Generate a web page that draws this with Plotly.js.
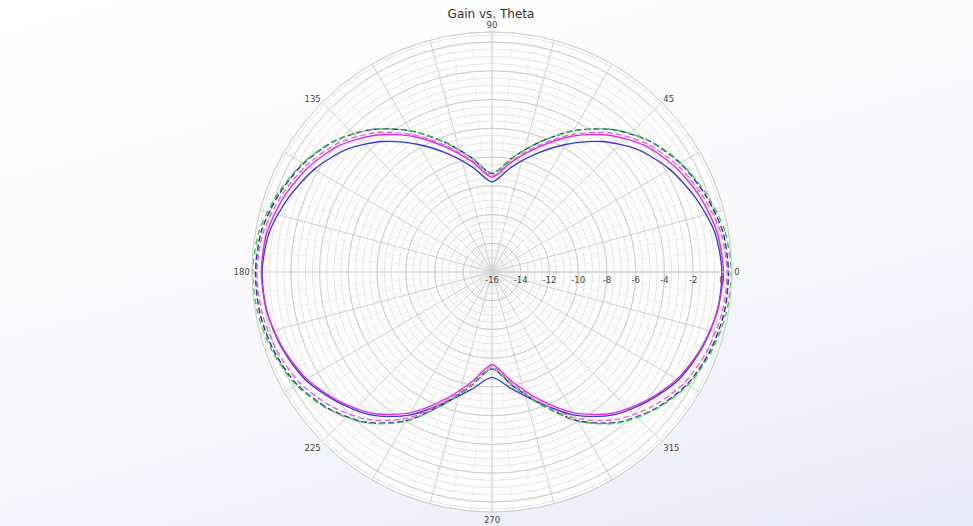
<!DOCTYPE html>
<html>
<head>
<meta charset="utf-8">
<script src="https://cdn.plot.ly/plotly-3.0.1.min.js"></script>
<style>
  html, body { margin:0; padding:0; }
  body { width:973px; height:526px; overflow:hidden;
         background: linear-gradient(165deg, #ffffff 0%, #fbfbfe 40%, #f1f2fa 75%, #e9ebf7 100%); }
  #chart { width:973px; height:526px; }
</style>
</head>
<body>
<div id="chart"></div>
<script>
// Angles (deg) and gain values (dB)
const thetaDeg = [0,10,20,30,40,50,60,70,80,90,100,110,120,130,140,150,160,170,
                  180,190,200,210,220,230,240,250,260,270,280,290,300,310,320,330,340,350];

const gainGreenDash = [0.65,0.45,-0.12,-0.82,-1.75,-3.05,-4.66,-6.39,-7.94,-9.10,-7.94,-6.39,-4.66,-3.05,-1.75,-0.82,-0.12,0.45,
                       0.65,0.55,0.24,-0.26,-1.14,-2.30,-4.00,-6.20,-8.00,-9.25,-8.00,-6.20,-4.00,-2.30,-1.14,-0.26,0.24,0.55];
const gainBlueDash  = [0.45,0.30,-0.22,-0.87,-1.78,-3.05,-4.66,-6.39,-7.94,-9.15,-7.94,-6.39,-4.66,-3.05,-1.78,-0.87,-0.22,0.30,
                       0.45,0.40,0.14,-0.34,-1.19,-2.35,-4.05,-6.23,-8.00,-9.25,-8.00,-6.23,-4.05,-2.35,-1.19,-0.34,0.14,0.40];
const gainPinkDash  = [0.35,0.15,-0.42,-1.12,-2.05,-3.35,-4.96,-6.64,-8.14,-9.30,-8.14,-6.64,-4.96,-3.35,-2.05,-1.12,-0.42,0.15,
                       0.35,0.25,-0.06,-0.56,-1.44,-2.60,-4.25,-6.40,-8.15,-9.40,-8.15,-6.40,-4.25,-2.60,-1.44,-0.56,-0.06,0.25];
const gainMagenta   = [0.10,-0.10,-0.62,-1.32,-2.25,-3.55,-5.11,-6.79,-8.24,-9.40,-8.24,-6.79,-5.11,-3.55,-2.25,-1.32,-0.62,-0.10,
                       0.05,-0.10,-0.51,-1.11,-2.04,-3.15,-4.70,-6.60,-8.30,-9.55,-8.30,-6.60,-4.70,-3.15,-2.04,-1.11,-0.51,-0.10];
const gainBlue      = [0.00,-0.25,-0.92,-1.72,-2.75,-4.15,-5.76,-7.29,-8.64,-9.73,-8.64,-7.29,-5.76,-4.15,-2.75,-1.72,-0.92,-0.25,
                       0.00,-0.10,-0.46,-1.01,-1.94,-3.00,-4.50,-6.30,-7.70,-8.67,-7.70,-6.30,-4.50,-3.00,-1.94,-1.01,-0.46,-0.10];

const radialTicks = [-16,-14,-12,-10,-8,-6,-4,-2,0];
const angleLabels = ['0','45','90','135','180','225','270','315'];

const R_MIN = -16, R_MAX = 0.7;

function closed(a){ return a.concat([a[0]]); }
const thetaClosed = closed(thetaDeg).map((v,i,arr)=> i===arr.length-1 ? 360 : v);

function series(r, color, dash){
  return { type:'scatterpolar', mode:'lines', subplot:'polar2',
           theta: thetaClosed, r: closed(r), hoverinfo:'skip',
           line:{color:color, width:1.4, dash:dash, shape:'spline', smoothing:0.8} };
}

const data = [
  // invisible trace so that the minor-grid subplot is drawn
  { type:'scatterpolar', mode:'markers', subplot:'polar', r:[R_MIN], theta:[0],
    marker:{opacity:0, size:1}, hoverinfo:'skip' },
  series(gainBlue,      '#3a3ad8', 'solid'),
  series(gainMagenta,   '#e02de0', 'solid'),
  series(gainPinkDash,  '#f060dc', '6px,3px'),
  series(gainBlueDash,  '#2a2aa8', '6px,3px'),
  series(gainGreenDash, '#3fcc3f', '6px,4px')
];

// minor grid values
const minorR = []; for (let v = R_MIN; v <= 0.5 + 1e-9; v += 0.5) minorR.push(v);
const minorA = []; for (let a = 0; a < 360; a += 5) minorA.push(a);
const majorA = []; const majorAText = [];
for (let a = 0; a < 360; a += 15) { majorA.push(a); majorAText.push(a % 45 === 0 ? angleLabels[a/45] : ''); }

const dom = { x:[252/973, 732/973], y:[14/526, 494/526] };
const tickFont = {family:'DejaVu Sans, sans-serif', size:8.5, color:'#444'};

const layout = {
  width:973, height:526,
  margin:{l:0,r:0,t:0,b:0},
  paper_bgcolor:'rgba(0,0,0,0)',
  showlegend:false,
  title:{ text:'Gain vs. Theta', x:491/973, xanchor:'center', y:1-14/526, yanchor:'middle',
          font:{family:'DejaVu Sans, sans-serif', size:12, color:'#333'} },
  polar:{
    domain:dom, bgcolor:'#ffffff',
    radialaxis:{ range:[R_MIN,R_MAX], tickmode:'array', tickvals:minorR, showticklabels:false,
                 ticks:'', showline:false, gridcolor:'#e4e4e4', gridwidth:1 },
    angularaxis:{ tickmode:'array', tickvals:minorA, showticklabels:false, ticks:'',
                  showline:true, linecolor:'#dcdcdc', gridcolor:'#f1f1f1', direction:'counterclockwise', rotation:0 }
  },
  polar2:{
    domain:dom, bgcolor:'rgba(0,0,0,0)',
    radialaxis:{ range:[R_MIN,R_MAX], tickmode:'array', tickvals:radialTicks, ticktext:radialTicks.map(String),
                 ticks:'', showline:true, linecolor:'#cfcfcf', gridcolor:'#cdcdcd', gridwidth:1,
                 angle:0, tickangle:0, side:'clockwise', tickfont:tickFont },
    angularaxis:{ tickmode:'array', tickvals:majorA, ticktext:majorAText, ticks:'',
                  showline:true, linecolor:'#d0d0d0', gridcolor:'#d2d2d2', direction:'counterclockwise', rotation:0,
                  tickfont:tickFont }
  }
};

Plotly.newPlot('chart', data, layout, {displayModeBar:false, staticPlot:true});
</script>
</body>
</html>
